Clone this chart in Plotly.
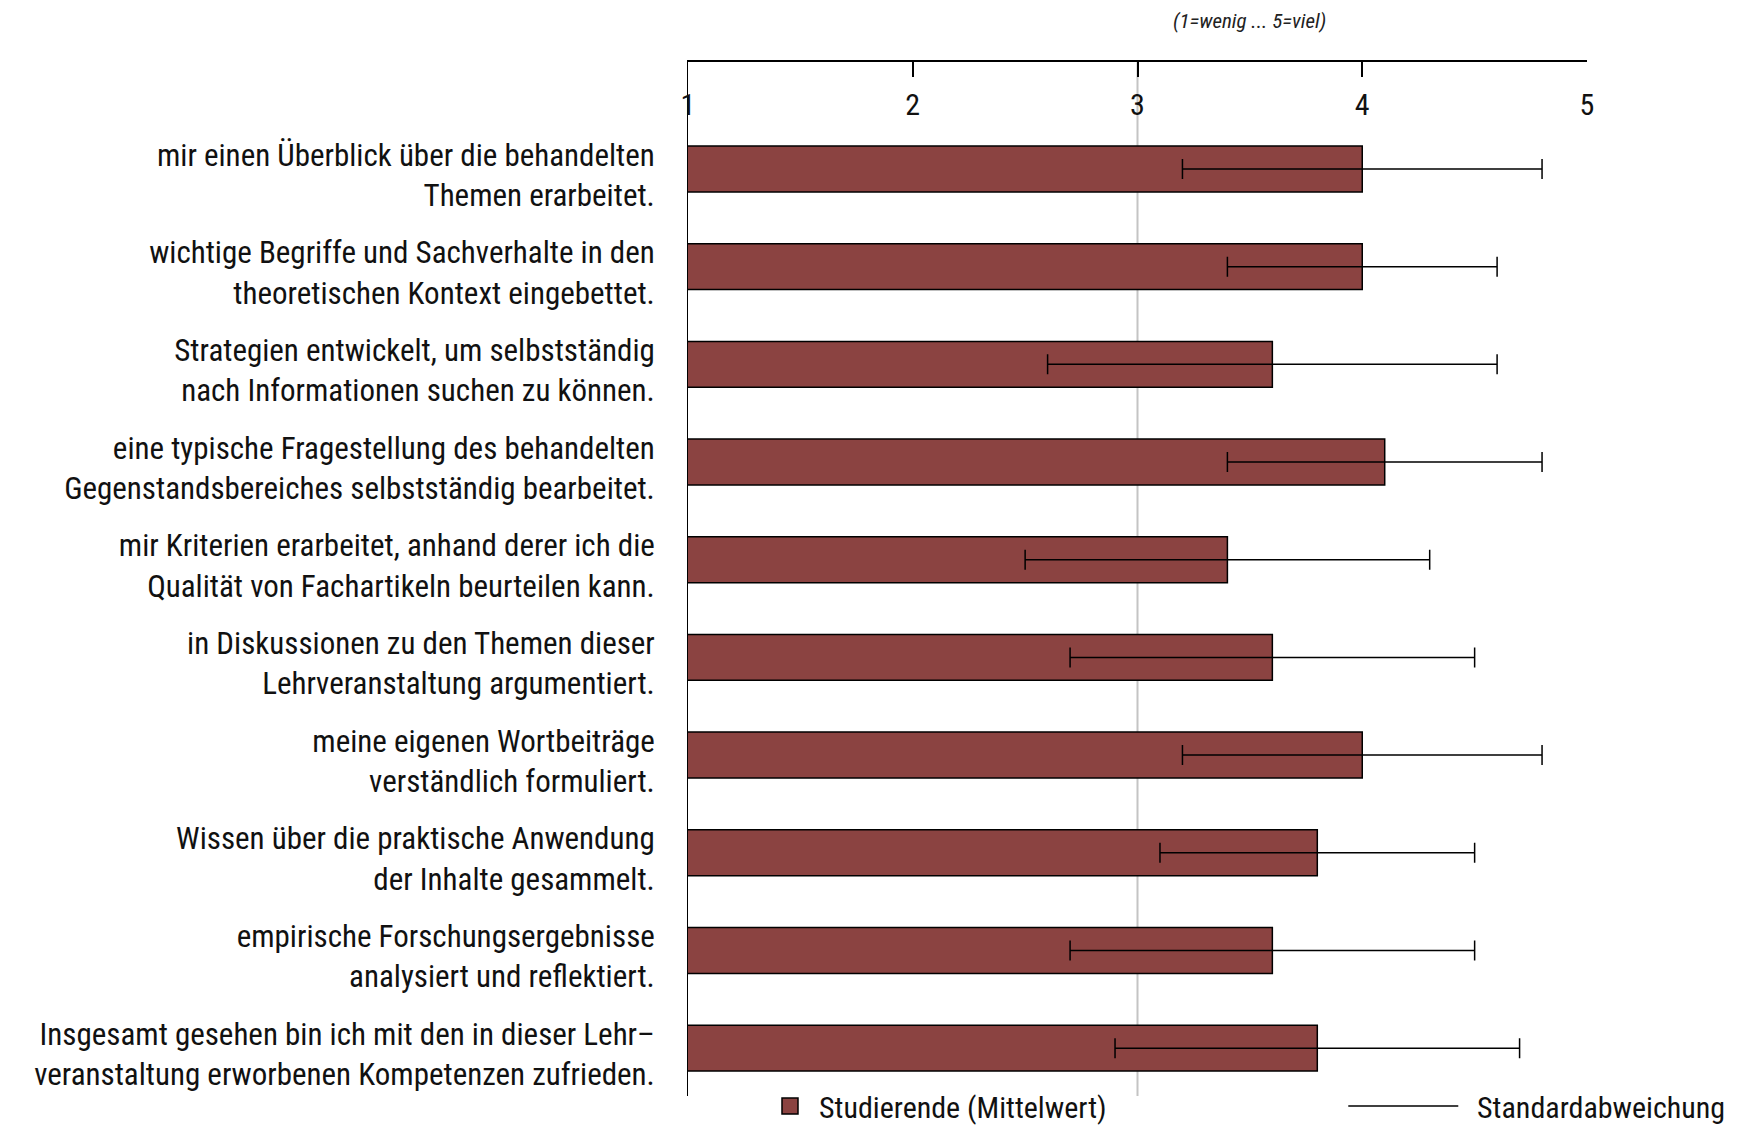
import plotly.graph_objects as go

categories = [
    "mir einen Überblick über die behandelten<br>Themen erarbeitet.",
    "wichtige Begriffe und Sachverhalte in den<br>theoretischen Kontext eingebettet.",
    "Strategien entwickelt, um selbstständig<br>nach Informationen suchen zu können.",
    "eine typische Fragestellung des behandelten<br>Gegenstandsbereiches selbstständig bearbeitet.",
    "mir Kriterien erarbeitet, anhand derer ich die<br>Qualität von Fachartikeln beurteilen kann.",
    "in Diskussionen zu den Themen dieser<br>Lehrveranstaltung argumentiert.",
    "meine eigenen Wortbeiträge<br>verständlich formuliert.",
    "Wissen über die praktische Anwendung<br>der Inhalte gesammelt.",
    "empirische Forschungsergebnisse<br>analysiert und reflektiert.",
    "Insgesamt gesehen bin ich mit den in dieser Lehr–<br>veranstaltung erworbenen Kompetenzen zufrieden.",
]
means = [4.0, 4.0, 3.6, 4.1, 3.4, 3.6, 4.0, 3.8, 3.6, 3.8]
sds = [0.8, 0.6, 1.0, 0.7, 0.9, 0.9, 0.8, 0.7, 0.9, 0.9]
tick_values = [1, 2, 3, 4, 5]
reference_value = 3
legend_names = ["Studierende (Mittelwert)", "\u00a0\u00a0Standardabweichung"]

FONT = "Roboto Condensed, Liberation Sans, sans-serif"
BAR_COLOR = "#8B4341"
TEXT = "#111111"

fig = go.Figure()
fig.add_trace(go.Bar(
    y=categories, x=means, base=0, orientation="h",
    marker=dict(color=BAR_COLOR, line=dict(color="black", width=1.5)),
    error_x=dict(type="data", array=sds, visible=True, color="black", thickness=1.5, width=10),
    showlegend=False,
))
# legend entries
fig.add_trace(go.Scatter(
    x=[None], y=[None], mode="markers", name=legend_names[0], legend="legend",
    marker=dict(symbol="square", size=20, color=BAR_COLOR, line=dict(color="black", width=1.5)),
))
fig.add_trace(go.Scatter(
    x=[None], y=[None], mode="lines", name=legend_names[1], legend="legend2",
    line=dict(color="black", width=1.5),
))

fig.add_shape(type="line", xref="x", yref="paper", x0=reference_value, x1=reference_value,
              y0=0, y1=1, line=dict(color="#c4c4c4", width=2), layer="below")

fig.add_annotation(text="<i>(1=wenig ... 5=viel)</i>", xref="paper", yref="paper",
                   x=0.625, y=1.040, showarrow=False, xanchor="center", yanchor="middle",
                   font=dict(family=FONT, size=21, color="#222"))

legend_font = dict(family=FONT, size=30, color=TEXT)
fig.update_layout(
    width=1762, height=1127,
    margin=dict(l=680, r=183, t=54, b=39, autoexpand=False),
    plot_bgcolor="white", paper_bgcolor="white",
    font=dict(family=FONT, size=30, color=TEXT),
    bargap=0.53,
    xaxis=dict(
        side="top", range=[1, 5], tickvals=tick_values, showgrid=False, zeroline=False,
        showline=True, linecolor="black", linewidth=2,
        ticks="inside", ticklen=15, tickwidth=1.5, tickcolor="black",
        ticklabelposition="inside", ticklabeloverflow="allow", ticklabelstandoff=20,
        tickfont=dict(size=30, color=TEXT),
    ),
    yaxis=dict(
        range=[9.49, -1.095], showgrid=False, zeroline=False,
        showline=True, linecolor="black", linewidth=1,
        ticks="", ticklabelstandoff=26, ticklabelshift=-6, tickfont=dict(size=31, color=TEXT),
    ),
    legend=dict(
        orientation="h", x=0.0812, xanchor="left", y=-0.0097, yanchor="middle",
        itemwidth=48, font=legend_font, bgcolor="rgba(0,0,0,0)",
    ),
    legend2=dict(
        orientation="h", x=0.7289, xanchor="left", y=-0.0097, yanchor="middle",
        itemwidth=110, font=legend_font, bgcolor="rgba(0,0,0,0)",
    ),
)

fig.write_html("out.html")
